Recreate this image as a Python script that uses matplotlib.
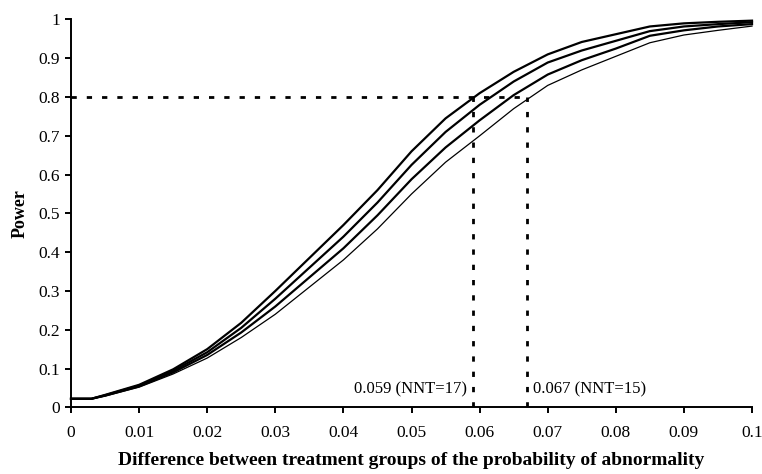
import numpy as np
import matplotlib
matplotlib.use("Agg")
import matplotlib.pyplot as plt

# data
diff = [0, 0.003, 0.005, 0.01, 0.015, 0.02, 0.025, 0.03, 0.035, 0.04, 0.045,
        0.05, 0.055, 0.06, 0.065, 0.07, 0.075, 0.08, 0.085, 0.09, 0.095, 0.1]
power_a = [0.022, 0.022, 0.032, 0.058, 0.098, 0.150, 0.218, 0.300, 0.385, 0.470, 0.560,
           0.660, 0.745, 0.810, 0.865, 0.910, 0.942, 0.962, 0.982, 0.990, 0.994, 0.997]
power_b = [0.022, 0.022, 0.031, 0.056, 0.094, 0.142, 0.205, 0.280, 0.360, 0.440, 0.528,
           0.625, 0.710, 0.780, 0.840, 0.889, 0.920, 0.945, 0.970, 0.982, 0.988, 0.993]
power_c = [0.022, 0.022, 0.030, 0.054, 0.090, 0.135, 0.193, 0.260, 0.335, 0.410, 0.495,
           0.588, 0.670, 0.740, 0.805, 0.858, 0.895, 0.925, 0.958, 0.972, 0.982, 0.988]
power_d = [0.022, 0.022, 0.029, 0.052, 0.086, 0.127, 0.180, 0.240, 0.310, 0.380, 0.460,
           0.550, 0.632, 0.700, 0.770, 0.830, 0.870, 0.905, 0.940, 0.960, 0.972, 0.983]
widths = [1.6, 1.6, 1.6, 0.9]

target_power = 0.8
marks = [0.059, 0.067]
mark_labels = ["0.059 (NNT=17)", "0.067 (NNT=15)"]

xticks = [0, 0.01, 0.02, 0.03, 0.04, 0.05, 0.06, 0.07, 0.08, 0.09, 0.1]
xticklabels = ["0", "0.01", "0.02", "0.03", "0.04", "0.05", "0.06", "0.07", "0.08", "0.09", "0.1"]
yticks = [0, 0.1, 0.2, 0.3, 0.4, 0.5, 0.6, 0.7, 0.8, 0.9, 1]
yticklabels = ["0", "0.1", "0.2", "0.3", "0.4", "0.5", "0.6", "0.7", "0.8", "0.9", "1"]

plt.rcParams['font.family'] = ['Liberation Serif', 'DejaVu Serif']
plt.rcParams['font.size'] = 12.5

fig = plt.figure(figsize=(7.62, 4.74), dpi=100)
ax = fig.add_axes([0.0932, 0.1407, 0.8937, 0.8182])

for p, lw in zip([power_a, power_b, power_c, power_d], widths):
    ax.plot(diff, p, color="black", lw=lw, clip_on=False, zorder=3)

dots = (0, (1.9, 3.6))
ax.plot([0, marks[1]], [target_power, target_power], color="black", lw=2.0, ls=dots)
for m in marks:
    ax.plot([m, m], [0, target_power], color="black", lw=2.0, ls=dots)

ax.text(marks[0] - 0.0008, 0.045, mark_labels[0], ha="right", va="center", fontsize=12)
ax.text(marks[1] + 0.0008, 0.045, mark_labels[1], ha="left", va="center", fontsize=12)

ax.set_xlim(0, 0.1)
ax.set_ylim(0, 1)
ax.set_xticks(xticks)
ax.set_xticklabels(xticklabels)
ax.set_yticks(yticks)
ax.set_yticklabels(yticklabels)
for s in ["top", "right"]:
    ax.spines[s].set_visible(False)
for s in ["left", "bottom"]:
    ax.spines[s].set_linewidth(1.4)
ax.tick_params(axis="both", direction="out", length=4, width=1.4, labelsize=12.5)
ax.tick_params(axis="x", pad=9)
ax.tick_params(axis="y", pad=4)

ax.set_xlabel("Difference between treatment groups of the probability of abnormality",
              fontweight="bold", fontsize=14, labelpad=8)
ax.set_ylabel("Power", fontweight="bold", fontsize=13, labelpad=7)

fig.savefig("out.png", dpi=100)
